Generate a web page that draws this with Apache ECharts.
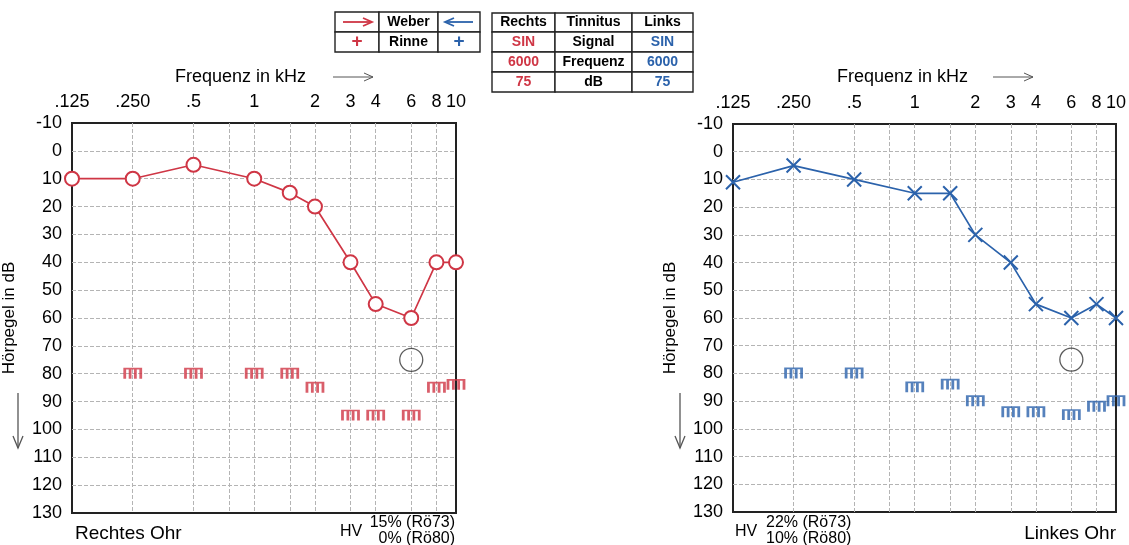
<!DOCTYPE html>
<html>
<head>
<meta charset="utf-8">
<script src="https://cdn.jsdelivr.net/npm/echarts@6/dist/echarts.min.js"></script>
<style>
  html, body { margin: 0; padding: 0; background: #fff; }
  #chart { width: 1129px; height: 545px; }
</style>
</head>
<body>
<div id="chart"></div>
<script>
// Frequenzen (kHz) und Hörschwellen (dB)
const freqs = [0.125, 0.25, 0.5, 1, 1.5, 2, 3, 4, 6, 8, 10]
const rechtsLuft = [10, 10, 5, 10, 15, 20, 40, 55, 60, 40, 40]
const linksLuft = [11, 5, 10, 15, 15, 30, 40, 55, 60, 55, 60]

const knochenFreqs = [0.25, 0.5, 1, 1.5, 2, 3, 4, 6, 8, 10]
const rechtsKnochen = [80, 80, 80, 80, 85, 95, 95, 95, 85, 84]
const linksKnochen = [80, 80, 85, 84, 90, 94, 94, 95, 92, 90]

const tinnitusFreq = [6]
const tinnitusDb = [75]

const labelFreqs = [0.125, 0.25, 0.5, 1, 2, 3, 4, 6, 8, 10]
const labelTexts = ['.125', '.250', '.5', '1', '2', '3', '4', '6', '8', '10']
const gridFreqs = [0.125, 0.25, 0.5, 0.75, 1, 1.5, 2, 3, 4, 6, 8, 10]

const RED = '#cf3645'
const BLUE = '#2b62ab'
const FONT = 'Liberation Sans'

const chart = echarts.init(document.getElementById('chart'))

const pairs = (xs, ys) => xs.map((x, i) => [x, ys[i]])

const boneSymbol = 'path://M0,9 L0,0 L14,0 L14,9 M4.7,0 L4.7,9 M9.3,0 L9.3,9'
const crossSymbol = 'path://M0,0 L10,10 M10,0 L0,10'

const gridLine = { show: true, showMinLine: false, showMaxLine: false, lineStyle: { color: '#b4b4b4', width: 1, type: [4, 2] } }

function xAxisFor(idx) {
  return {
    type: 'log',
    logBase: 2,
    gridIndex: idx,
    position: 'top',
    min: 0.125,
    max: 10,
    axisLine: { show: false },
    axisTick: { show: false, customValues: gridFreqs },
    axisLabel: {
      customValues: labelFreqs,
      margin: 12,
      fontFamily: FONT,
      fontSize: 18,
      color: '#000',
      formatter: (v) => {
        const i = labelFreqs.findIndex(f => Math.abs(f - v) < 1e-6)
        return i >= 0 ? labelTexts[i] : ''
      }
    },
    splitLine: gridLine
  }
}

function yAxisFor(idx) {
  return {
    type: 'value',
    gridIndex: idx,
    inverse: true,
    min: -10,
    max: 130,
    interval: 10,
    name: 'Hörpegel in dB',
    nameLocation: 'middle',
    nameRotate: 90,
    nameGap: 54,
    nameTextStyle: { fontFamily: FONT, fontSize: 17, color: '#000' },
    axisLine: { show: false },
    axisTick: { show: false },
    axisLabel: { margin: 10, fontFamily: FONT, fontSize: 18, color: '#000' },
    splitLine: gridLine
  }
}

function earSeries(idx, luft, knochen, color, symbol, symbolSize) {
  return [
    {
      type: 'line',
      xAxisIndex: idx, yAxisIndex: idx,
      data: pairs(freqs, luft),
      symbol: symbol,
      symbolSize: symbolSize,
      showAllSymbol: true,
      lineStyle: { color: color, width: 1.7 },
      itemStyle: symbol === 'emptyCircle'
        ? { color: color, borderWidth: 1.6 }
        : { color: 'rgba(0,0,0,0)', borderColor: color, borderWidth: 2 },
      z: 5
    },
    {
      type: 'scatter',
      xAxisIndex: idx, yAxisIndex: idx,
      data: pairs(knochenFreqs, knochen),
      symbol: boneSymbol,
      symbolSize: [16, 10],
      itemStyle: { color: 'rgba(0,0,0,0)', borderColor: color, borderWidth: 2.2 },
      z: 4
    },
    {
      type: 'scatter',
      xAxisIndex: idx, yAxisIndex: idx,
      data: pairs(tinnitusFreq, tinnitusDb),
      symbol: 'circle',
      symbolSize: 23,
      itemStyle: { color: 'rgba(0,0,0,0)', borderColor: '#333', borderWidth: 1.3 },
      z: 4
    }
  ]
}

// Hilfsfunktionen für die Tabellen oben
function cell(x, y, w, h) {
  return { type: 'rect', shape: { x, y, width: w, height: h }, style: { fill: '#fff', stroke: '#222', lineWidth: 1.4 } }
}
function txt(x, y, text, color, opts) {
  return {
    type: 'text', x, y,
    style: Object.assign({ text, fill: color || '#000', font: 'bold 14px ' + FONT, align: 'center', verticalAlign: 'middle' }, opts || {})
  }
}
function arrowRight(x1, x2, y, color, lw) {
  return [
    { type: 'line', shape: { x1, y1: y, x2, y2: y }, style: { stroke: color, lineWidth: lw } },
    { type: 'polyline', shape: { points: [[x2 - 9, y - 4], [x2, y], [x2 - 9, y + 4]] }, style: { stroke: color, lineWidth: lw, fill: null } }
  ]
}
function arrowLeft(x1, x2, y, color, lw) {
  return [
    { type: 'line', shape: { x1, y1: y, x2, y2: y }, style: { stroke: color, lineWidth: lw } },
    { type: 'polyline', shape: { points: [[x1 + 9, y - 4], [x1, y], [x1 + 9, y + 4]] }, style: { stroke: color, lineWidth: lw, fill: null } }
  ]
}
function arrowDown(x, y1, y2, color) {
  return [
    { type: 'line', shape: { x1: x, y1, x2: x, y2 }, style: { stroke: color, lineWidth: 1.3 } },
    { type: 'polyline', shape: { points: [[x - 5, y2 - 12], [x, y2], [x + 5, y2 - 12]] }, style: { stroke: color, lineWidth: 1.3, fill: null } }
  ]
}

const graphics = []
// Weber / Rinne
const wCols = [335, 379, 438, 480]
const wRows = [12, 32, 52]
for (let r = 0; r < 2; r++) {
  for (let c = 0; c < 3; c++) {
    graphics.push(cell(wCols[c], wRows[r], wCols[c + 1] - wCols[c], wRows[r + 1] - wRows[r]))
  }
}
graphics.push(...arrowRight(343, 372, 22, RED, 1.8))
graphics.push(...arrowLeft(445, 473, 22, BLUE, 1.8))
graphics.push(txt(408.5, 22, 'Weber'))
graphics.push(txt(408.5, 42, 'Rinne'))
graphics.push(txt(357, 42, '+', RED, { font: 'bold 19px ' + FONT }))
graphics.push(txt(459, 42, '+', BLUE, { font: 'bold 19px ' + FONT }))

// Tinnitus
const tCols = [492, 555, 632, 693]
const tRows = [13, 32, 52, 72, 92]
const tRowsText = [
  ['Rechts', 'Tinnitus', 'Links'],
  ['SIN', 'Signal', 'SIN'],
  ['6000', 'Frequenz', '6000'],
  ['75', 'dB', '75']
]
for (let r = 0; r < 4; r++) {
  for (let c = 0; c < 3; c++) {
    graphics.push(cell(tCols[c], tRows[r], tCols[c + 1] - tCols[c], tRows[r + 1] - tRows[r]))
    let color = '#000'
    if (r > 0 && c === 0) color = RED
    if (r > 0 && c === 2) color = BLUE
    graphics.push(txt((tCols[c] + tCols[c + 1]) / 2, (tRows[r] + tRows[r + 1]) / 2, tRowsText[r][c], color))
  }
}

// Achsentitel oben und Pfeile
graphics.push(txt(175, 77, 'Frequenz in kHz', '#000', { font: '18px ' + FONT, align: 'left' }))
graphics.push(...arrowRight(333, 373, 77, '#555', 1))
graphics.push(txt(837, 77, 'Frequenz in kHz', '#000', { font: '18px ' + FONT, align: 'left' }))
graphics.push(...arrowRight(993, 1033, 77, '#555', 1))
graphics.push(...arrowDown(18, 393, 448, '#555'))
graphics.push(...arrowDown(680, 393, 448, '#555'))

// Beschriftungen unten
graphics.push(txt(75, 534, 'Rechtes Ohr', '#000', { font: '19px ' + FONT, align: 'left' }))
graphics.push(txt(340, 532, 'HV', '#000', { font: '16px ' + FONT, align: 'left' }))
graphics.push(txt(455, 523, '15% (Rö73)', '#000', { font: '16px ' + FONT, align: 'right' }))
graphics.push(txt(455, 539, '0% (Rö80)', '#000', { font: '16px ' + FONT, align: 'right' }))

graphics.push(txt(735, 532, 'HV', '#000', { font: '16px ' + FONT, align: 'left' }))
graphics.push(txt(766, 523, '22% (Rö73)', '#000', { font: '16px ' + FONT, align: 'left' }))
graphics.push(txt(766, 539, '10% (Rö80)', '#000', { font: '16px ' + FONT, align: 'left' }))
graphics.push(txt(1116, 534, 'Linkes Ohr', '#000', { font: '19px ' + FONT, align: 'right' }))

const option = {
  animation: false,
  backgroundColor: '#fff',
  grid: [
    { left: 72, top: 123, width: 384, height: 390, show: true, borderColor: '#222', borderWidth: 2, backgroundColor: 'transparent' },
    { left: 733, top: 124, width: 383, height: 388, show: true, borderColor: '#222', borderWidth: 2, backgroundColor: 'transparent' }
  ],
  xAxis: [xAxisFor(0), xAxisFor(1)],
  yAxis: [yAxisFor(0), yAxisFor(1)],
  series: [
    ...earSeries(0, rechtsLuft, rechtsKnochen, RED, 'emptyCircle', 14),
    ...earSeries(1, linksLuft, linksKnochen, BLUE, crossSymbol, 14)
  ],
  graphic: graphics
}

chart.setOption(option)
</script>
</body>
</html>
